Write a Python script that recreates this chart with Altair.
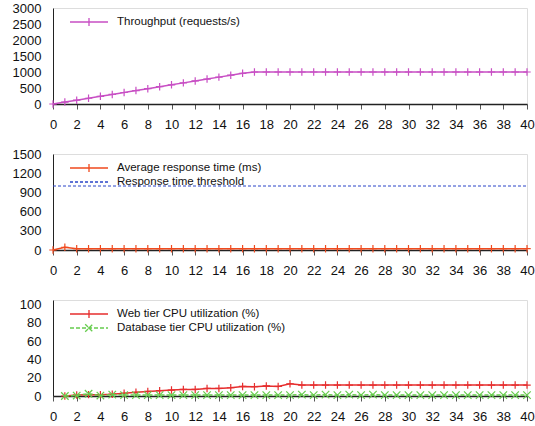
import altair as alt
import pandas as pd

# ---------------- data ----------------
minutes = list(range(0, 41))
throughput = [0, 60, 120, 180, 240, 300, 360, 420, 480, 540, 600, 660, 720,
              780, 840, 900, 960] + [1000] * 24
resp_time = [0, 43] + [21] * 39
threshold_value = 1000

cpu_minutes = list(range(1, 41))
web_cpu = [0, 1, 1.5, 1.5, 2, 3, 4, 5, 5.8, 6.5, 7.2, 7.2, 8.3, 8.3, 9, 10.5,
           10.2, 11, 10.5, 13.4] + [12] * 20
db_cpu = [0, 0.5, 2.5, 0.5, 1.5, 1, 1, 1, 1, 1, 1, 1, 1, 1, 1, 1, 1, 1, 1, 1,
          1.5, 1, 1.5, 1, 1.5, 1, 1.5, 1, 1, 1, 1, 1, 1, 1, 1, 1, 1, 1, 1, 1]

x_ticks = list(range(0, 41, 2))

S_TP = "Throughput (requests/s)"
S_RT = "Average response time (ms)"
S_TH = "Response time threshold"
S_WEB = "Web tier CPU utilization (%)"
S_DB = "Database tier CPU utilization (%)"

df_tp = pd.DataFrame({"minute": minutes, "value": throughput, "series": S_TP})
df_rt = pd.DataFrame({"minute": minutes, "value": resp_time, "series": S_RT})
df_th = pd.DataFrame({"minute": [0, 40], "value": [threshold_value] * 2, "series": S_TH})
df_web = pd.DataFrame({"minute": cpu_minutes, "value": web_cpu, "series": S_WEB})
df_db = pd.DataFrame({"minute": cpu_minutes, "value": db_cpu, "series": S_DB})

# ---------------- styling ----------------
W, H = 474, 96
FONT = "Liberation Sans"
PLUS = "M-1,0H1M0,-1V1"
XMARK = "M-1,-1L1,1M-1,1L1,-1"
LEG_PLUS = "M-1,0H1M0,-0.21V0.21"
LEG_X = "M-1,0H1M-0.2,-0.2L0.2,0.2M-0.2,0.2L0.2,-0.2"
LEG_LINE = "M-1,0H1"
R = 19  # legend symbol half length


def xenc():
    return alt.X("minute:Q",
                 scale=alt.Scale(domain=[0, 40], nice=False, zero=False),
                 axis=alt.Axis(values=x_ticks, title=None, grid=False, tickSize=5,
                               labelPadding=9, tickColor="#555", domainColor="#222",
                               domainWidth=1.5, labelFontSize=13, labelColor="#111",
                               labelFont=FONT, labelFlush=False, format="d",
                               labelOverlap=False))


def yenc(domain, values):
    return alt.Y("value:Q",
                 scale=alt.Scale(domain=domain, nice=False),
                 axis=alt.Axis(values=values, title=None, grid=False, ticks=False,
                               labelPadding=12, domainColor="#222", labelFontSize=13,
                               labelColor="#111", labelFont=FONT, format="d",
                               labelFlush=False, labelOverlap=False,
                               minExtent=41, maxExtent=41))


def cenc(name, color, symbol, row, dash=None):
    leg = dict(title=None, orient="none", legendX=35 - R, legendY=13 + 14 * row - R,
               symbolType=symbol, symbolSize=(2 * R) ** 2, symbolStrokeWidth=1.3,
               symbolFillColor="transparent", labelFontSize=11.5, labelFont=FONT,
               labelColor="#111", labelOffset=8, padding=0, labelLimit=0)
    if dash:
        leg["symbolDash"] = dash
    return alt.Color("series:N", scale=alt.Scale(domain=[name], range=[color]),
                     legend=alt.Legend(**leg))


def series(df, name, color, marker, legsym, row, domain, values, dash=None):
    c = cenc(name, color, legsym, row, dash)
    line_kw = dict(strokeWidth=1.5)
    if dash:
        line_kw["strokeDash"] = dash
    line = alt.Chart(df).mark_line(**line_kw).encode(
        x=xenc(), y=yenc(domain, values), color=c)
    pts = alt.Chart(df).mark_point(shape=marker, size=56, filled=False,
                                   strokeWidth=1.2, opacity=1).encode(
        x=xenc(), y=yenc(domain, values), color=c)
    return alt.layer(line, pts)


# panel 1
p1 = series(df_tp, S_TP, "#c84fc4", PLUS, LEG_PLUS, 0,
            [0, 3000], list(range(0, 3001, 500))).properties(width=W, height=H)

# panel 2
rt = series(df_rt, S_RT, "#f04a1e", PLUS, LEG_PLUS, 0,
            [0, 1500], list(range(0, 1501, 300)))
th = alt.Chart(df_th).mark_line(strokeWidth=1, strokeDash=[3, 2]).encode(
    x=xenc(), y=yenc([0, 1500], list(range(0, 1501, 300))),
    color=cenc(S_TH, "#2a45c8", LEG_LINE, 1, [3, 2]))
p2 = alt.layer(rt, th).resolve_scale(color="independent").properties(width=W, height=H)

# panel 3
web = series(df_web, S_WEB, "#e62e2e", PLUS, LEG_PLUS, 0,
             [0, 105], list(range(0, 101, 20)))
db = series(df_db, S_DB, "#66cc4d", XMARK, LEG_X, 1,
            [0, 105], list(range(0, 101, 20)), dash=[4, 2])
p3 = alt.layer(web, db).resolve_scale(color="independent").properties(width=W, height=H)

chart = alt.vconcat(p1, p2, p3, spacing=15).resolve_scale(
    color="independent").properties(
    padding={"left": 11, "top": 1, "right": 0, "bottom": 2}
).configure_view(stroke="#222", strokeWidth=1).configure(font=FONT)

chart.save("out.html", embed_options={"renderer": "svg", "actions": False})
